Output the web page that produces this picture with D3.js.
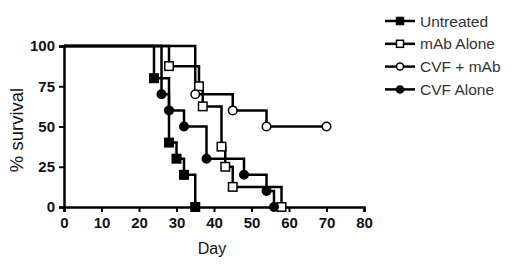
<!DOCTYPE html>
<html lang="en">
<head>
    <meta charset="UTF-8"/>
    <title>Survival</title>
    <script src="https://d3js.org/d3.v7.min.js"></script>
    <style>
        body { margin: 0; background: #fff; }
        svg { font-family: "Liberation Sans", Arial, sans-serif; }
        .tick text { font-size: 15px; font-weight: bold; fill: #111; }
    </style>
</head>
<body>
    <script>
        // Kaplan-Meier steps
        var seriesNames = ["Untreated", "mAb Alone", "CVF + mAb", "CVF Alone"];
        var untreatedDay = [0, 24, 28, 30, 32, 35];
        var untreatedSurv = [100, 80, 40, 30, 20, 0];
        var mabDay = [0, 28, 36, 37, 42, 43, 45, 58];
        var mabSurv = [100, 87.5, 75, 62.5, 37.5, 25, 12.5, 0];
        var cvfMabDay = [0, 35, 45, 54, 70];
        var cvfMabSurv = [100, 70, 60, 50, 50];
        var cvfDay = [0, 26, 28, 32, 38, 48, 54, 56];
        var cvfSurv = [100, 70, 60, 50, 30, 20, 10, 0];
        var xTicks = [0, 10, 20, 30, 40, 50, 60, 70, 80];
        var yTicks = [0, 25, 50, 75, 100];

        var w = 520, h = 266;
        var x = d3.scaleLinear().domain([0, 80]).range([64, 364]);
        var y = d3.scaleLinear().domain([0, 100]).range([207, 46]);

        var svg = d3.select("body").append("svg")
            .attr("width", w)
            .attr("height", h);

        function pts(days, surv) {
            return days.map(function(d, i) { return [d, surv[i]]; });
        }
        var series = [
            { name: seriesNames[0], data: pts(untreatedDay, untreatedSurv), shape: "square", fill: "#000" },
            { name: seriesNames[1], data: pts(mabDay, mabSurv), shape: "square", fill: "#fff" },
            { name: seriesNames[2], data: pts(cvfMabDay, cvfMabSurv), shape: "circle", fill: "#fff" },
            { name: seriesNames[3], data: pts(cvfDay, cvfSurv), shape: "circle", fill: "#000" }
        ];

        // axes
        svg.append("g")
            .attr("transform", "translate(0,207)")
            .call(d3.axisBottom(x).tickValues(xTicks).tickSize(5).tickPadding(5))
            .call(function(g) {
                g.select(".domain").attr("stroke-width", 2.5);
                g.selectAll(".tick line").attr("stroke-width", 2);
            });
        svg.append("g")
            .attr("transform", "translate(64,0)")
            .call(d3.axisLeft(y).tickValues(yTicks).tickSize(5).tickPadding(4))
            .call(function(g) {
                g.select(".domain").attr("stroke-width", 2.5);
                g.selectAll(".tick line").attr("stroke-width", 2);
            });

        var line = d3.line()
            .x(function(d) { return x(d[0]); })
            .y(function(d) { return y(d[1]); })
            .curve(d3.curveStepAfter);

        function marker(g, shape, fill, cx, cy, size) {
            var r = size / 2;
            if (shape === "square") {
                g.append("rect")
                    .attr("x", cx - r).attr("y", cy - r)
                    .attr("width", size).attr("height", size)
                    .attr("fill", fill).attr("stroke", "#000").attr("stroke-width", 1.5);
            } else {
                g.append("circle")
                    .attr("cx", cx).attr("cy", cy).attr("r", r)
                    .attr("fill", fill).attr("stroke", "#000").attr("stroke-width", 1.5);
            }
        }

        series.forEach(function(s) {
            svg.append("path")
                .attr("d", line(s.data))
                .attr("fill", "none")
                .attr("stroke", "#000")
                .attr("stroke-width", 2.5);
        });
        series.forEach(function(s) {
            var g = svg.append("g");
            s.data.slice(1).forEach(function(d) {
                marker(g, s.shape, s.fill, x(d[0]), y(d[1]), 8.5);
            });
        });

        // axis titles
        svg.append("text")
            .attr("text-anchor", "middle")
            .attr("transform", "translate(23,130) rotate(-90)")
            .attr("font-size", 18.5)
            .attr("fill", "#111")
            .text("% survival");
        svg.append("text")
            .attr("text-anchor", "middle")
            .attr("x", 212)
            .attr("y", 254)
            .attr("font-size", 16)
            .attr("fill", "#111")
            .text("Day");

        // legend
        var legend = svg.append("g");
        series.forEach(function(s, i) {
            var ly = 21 + i * 22.8;
            legend.append("line")
                .attr("x1", 385).attr("x2", 415)
                .attr("y1", ly).attr("y2", ly)
                .attr("stroke", "#000").attr("stroke-width", 2.5);
            marker(legend, s.shape, s.fill, 400, ly, 7);
            legend.append("text")
                .attr("x", 420)
                .attr("y", ly + 5.5)
                .attr("font-size", 15.5)
                .attr("fill", "#333")
                .text(s.name);
        });
    </script>
</body>
</html>
